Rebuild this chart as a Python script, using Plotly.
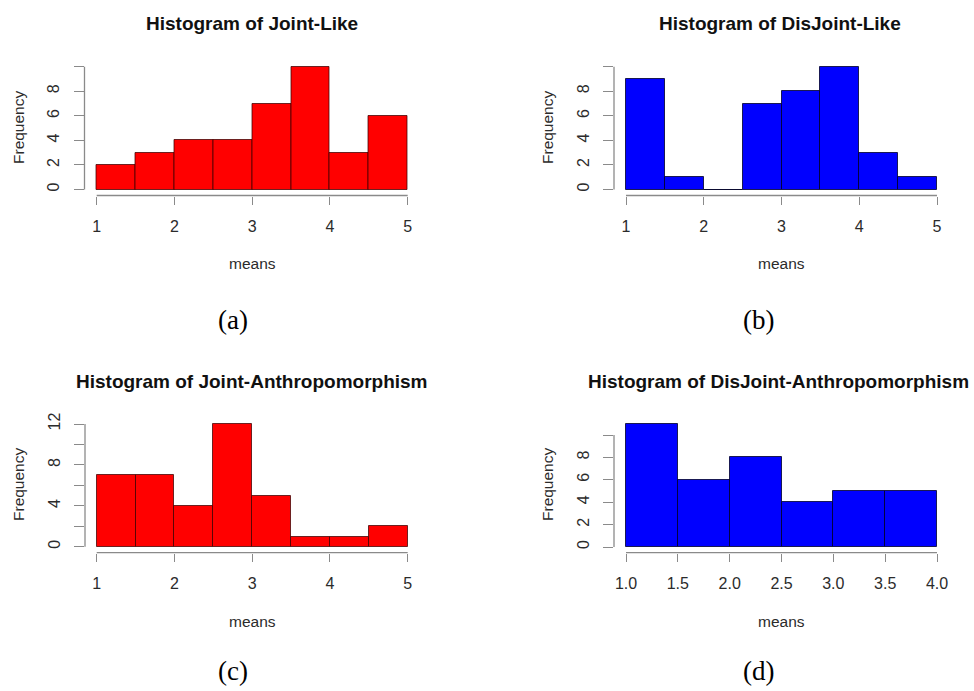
import plotly.graph_objects as go

W, H = 974, 691

# ---------------- data ----------------
bins_5 = [1.0, 1.5, 2.0, 2.5, 3.0, 3.5, 4.0, 4.5, 5.0]
bins_4 = [1.0, 1.5, 2.0, 2.5, 3.0, 3.5, 4.0]

joint_like = [2, 3, 4, 4, 7, 10, 3, 6]
disjoint_like = [9, 1, 0, 7, 8, 10, 3, 1]
joint_anthro = [7, 7, 4, 12, 5, 1, 1, 2]
disjoint_anthro = [11, 6, 8, 4, 5, 5]

titles = ["Histogram of Joint-Like", "Histogram of DisJoint-Like",
          "Histogram of Joint-Anthropomorphism", "Histogram of DisJoint-Anthropomorphism"]
sublabels = ["(a)", "(b)", "(c)", "(d)"]

xt_5 = [1, 2, 3, 4, 5]
xt_5_text = ["1", "2", "3", "4", "5"]
xt_4 = [1.0, 1.5, 2.0, 2.5, 3.0, 3.5, 4.0]
xt_4_text = ["1.0", "1.5", "2.0", "2.5", "3.0", "3.5", "4.0"]
yt_10 = [0, 2, 4, 6, 8, 10]
yt_10_text = ["0", "2", "4", "6", "8", ""]
yt_12 = [0, 2, 4, 6, 8, 10, 12]
yt_12_text = ["0", "", "4", "", "8", "", "12"]

# ---------------- layout (pixel geometry) ----------------
panels = [
    dict(counts=joint_like, bins=bins_5, color="#ff0000", line="rgba(60,0,0,0.75)",
         xt=xt_5, xtt=xt_5_text, yt=yt_10, ytt=yt_10_text,
         xmap=(1, 96.7, 5, 407.7), ymap=(0, 189.5, 10, 66.7),
         left=84.5, right=420, bottom=195.5, top=55,
         title=(251.5, 23), xlab=(252, 263), ylab=(18, 128), sub=(233, 320)),
    dict(counts=disjoint_like, bins=bins_5, color="#0000ff", line="rgba(0,0,40,0.8)",
         xt=xt_5, xtt=xt_5_text, yt=yt_10, ytt=yt_10_text,
         xmap=(1, 626, 5, 937), ymap=(0, 189.5, 10, 66.7),
         left=614, right=950, bottom=195.5, top=55,
         title=(780, 23), xlab=(781, 263), ylab=(547, 128), sub=(758, 320)),
    dict(counts=joint_anthro, bins=bins_5, color="#ff0000", line="rgba(60,0,0,0.75)",
         xt=xt_5, xtt=xt_5_text, yt=yt_12, ytt=yt_12_text,
         xmap=(1, 96.7, 5, 407.7), ymap=(0, 546.8, 12, 424),
         left=85, right=420, bottom=552.7, top=412,
         title=(251, 381.7), xlab=(252, 621.7), ylab=(18, 485), sub=(233, 671)),
    dict(counts=disjoint_anthro, bins=bins_4, color="#0000ff", line="rgba(0,0,40,0.8)",
         xt=xt_4, xtt=xt_4_text, yt=yt_10, ytt=yt_10_text,
         xmap=(1, 626, 4, 937), ymap=(0, 547, 10, 435),
         left=614, right=950, bottom=552.7, top=412,
         title=(778.7, 381.7), xlab=(781, 621.7), ylab=(547, 485), sub=(758, 671)),
]

AX = "#8a8a8a"
TXT = "#2b2b2b"
SANS = "Liberation Sans, Arial, sans-serif"
SERIF = "Liberation Serif, Times New Roman, serif"

fig = go.Figure()
annotations = []
shapes = []

def px2x(px):
    return px / W

def px2y(py):
    return 1 - py / H

for i, p in enumerate(panels):
    n = i + 1
    xa = "x" if n == 1 else f"x{n}"
    ya = "y" if n == 1 else f"y{n}"
    xkey = "xaxis" if n == 1 else f"xaxis{n}"
    ykey = "yaxis" if n == 1 else f"yaxis{n}"

    # data->pixel linear maps
    vx1, px1, vx2, px2 = p["xmap"]
    sx = (px2 - px1) / (vx2 - vx1)
    vy1, py1, vy2, py2 = p["ymap"]
    sy = (py1 - py2) / (vy2 - vy1)
    xr = [vx1 + (p["left"] - px1) / sx, vx1 + (p["right"] - px1) / sx]
    yr = [vy1 - (p["bottom"] - py1) / sy, vy1 + (py1 - p["top"]) / sy]

    edges = p["bins"]
    centers = [(edges[k] + edges[k + 1]) / 2 for k in range(len(edges) - 1)]
    widths = [edges[k + 1] - edges[k] for k in range(len(edges) - 1)]

    fig.add_trace(go.Bar(
        x=centers, y=p["counts"], width=widths, xaxis=xa, yaxis=ya,
        marker=dict(color=p["color"], line=dict(color=p["line"], width=1)),
        showlegend=False, hoverinfo="x+y"))

    fig.layout[xkey] = dict(
        domain=[px2x(p["left"]), px2x(p["right"])], range=xr, anchor=ya,
        showgrid=False, zeroline=False, showline=False,
        ticks="outside", ticklen=8, tickwidth=1, tickcolor=AX,
        tickvals=p["xt"], ticktext=p["xtt"], ticklabelstandoff=8,
        tickfont=dict(family=SANS, size=16, color=TXT), fixedrange=True)
    fig.layout[ykey] = dict(
        domain=[px2y(p["bottom"]), px2y(p["top"])], range=yr, anchor=xa,
        showgrid=False, zeroline=False, showline=False,
        ticks="outside", ticklen=10, tickwidth=1, tickcolor=AX,
        tickvals=p["yt"], ticktext=p["ytt"], tickangle=-90, ticklabelstandoff=8,
        tickfont=dict(family=SANS, size=16, color=TXT), fixedrange=True)

    # R-style axis lines spanning first to last tick only
    shapes.append(dict(type="line", xref=xa, yref=f"{ya} domain",
                       x0=p["xt"][0], x1=p["xt"][-1], y0=0, y1=0,
                       line=dict(color=AX, width=1.3)))
    shapes.append(dict(type="line", xref=f"{xa} domain", yref=ya,
                       x0=0, x1=0, y0=p["yt"][0], y1=p["yt"][-1],
                       line=dict(color=AX, width=1.3)))

    annotations.append(dict(text=f"<b>{titles[i]}</b>", x=px2x(p["title"][0]), y=px2y(p["title"][1]),
                            xref="paper", yref="paper", showarrow=False,
                            xanchor="center", yanchor="middle",
                            font=dict(family=SANS, size=19, color="#111111")))
    annotations.append(dict(text="means", x=px2x(p["xlab"][0]), y=px2y(p["xlab"][1]),
                            xref="paper", yref="paper", showarrow=False,
                            xanchor="center", yanchor="middle",
                            font=dict(family=SANS, size=15.5, color=TXT)))
    annotations.append(dict(text="Frequency", x=px2x(p["ylab"][0]), y=px2y(p["ylab"][1]),
                            xref="paper", yref="paper", showarrow=False, textangle=-90,
                            xanchor="center", yanchor="middle",
                            font=dict(family=SANS, size=15.5, color=TXT)))
    annotations.append(dict(text=sublabels[i], x=px2x(p["sub"][0]), y=px2y(p["sub"][1]),
                            xref="paper", yref="paper", showarrow=False,
                            xanchor="center", yanchor="middle",
                            font=dict(family=SERIF, size=27, color="#000000")))

fig.update_layout(
    width=W, height=H, margin=dict(l=0, r=0, t=0, b=0),
    paper_bgcolor="white", plot_bgcolor="white",
    bargap=0, annotations=annotations, shapes=shapes,
)

fig.write_html("out.html", config={"displayModeBar": False})
